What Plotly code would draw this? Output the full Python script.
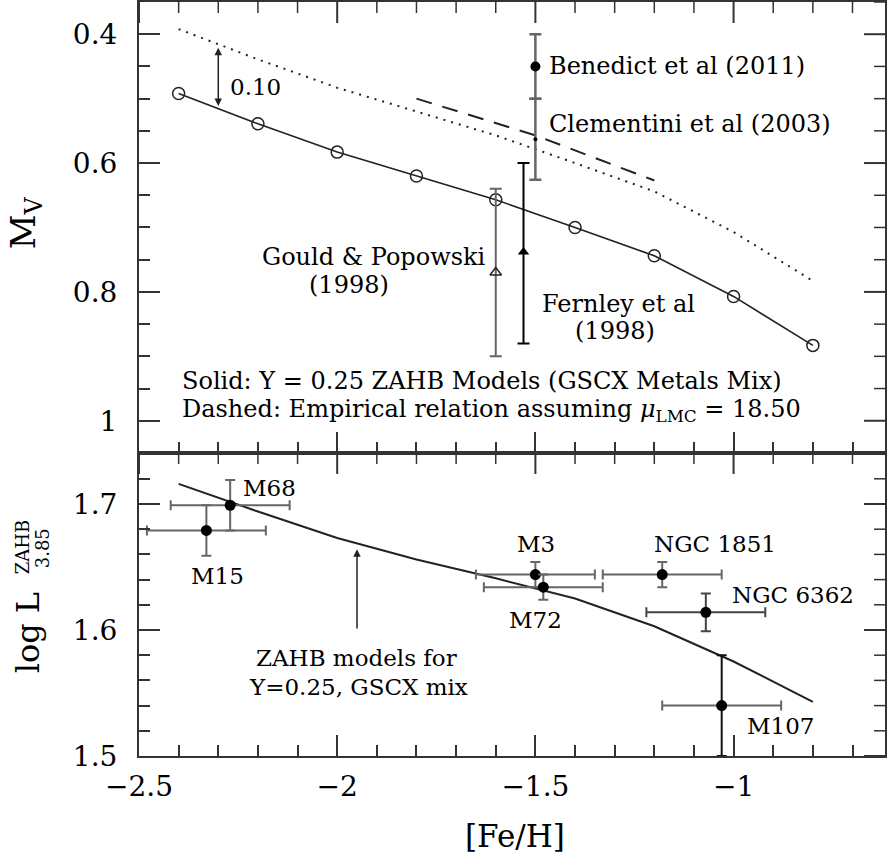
import numpy as np
import plotly.graph_objects as go

# ---------------- data ----------------
# ZAHB models, Y = 0.25, GSCX metals mix
feh_model = [-2.4, -2.2, -2.0, -1.8, -1.6, -1.4, -1.2, -1.0, -0.8]
mv_model = [0.492, 0.539, 0.583, 0.620, 0.657, 0.700, 0.744, 0.807, 0.883]
mv_dotted = [0.392, 0.439, 0.483, 0.520, 0.557, 0.600, 0.644, 0.707, 0.783]
logL_model = [1.716, 1.694, 1.673, 1.656, 1.641, 1.625, 1.603, 1.575, 1.543]

# empirical relation (mu_LMC = 18.50)
feh_emp = [-1.8, -1.5, -1.2]
mv_emp = [0.500, 0.557, 0.627]

# RR Lyrae calibrations
gould_feh, gould_mv, gould_err = -1.60, 0.770, 0.13
fernley_feh, fernley_mv, fernley_err_lo, fernley_err_hi = -1.53, 0.738, 0.138, 0.142
benedict_feh, benedict_mv, benedict_err = -1.50, 0.450, 0.050
clementini_feh, clementini_mv, clementini_err = -1.50, 0.563, 0.063

# globular clusters
gc_names = ["M15", "M68", "M3", "M72", "NGC 1851", "NGC 6362", "M107"]
gc_feh = [-2.33, -2.27, -1.50, -1.48, -1.18, -1.07, -1.03]
gc_logL = [1.679, 1.699, 1.644, 1.634, 1.644, 1.614, 1.540]
gc_feh_err = [0.15, 0.15, 0.15, 0.15, 0.15, 0.15, 0.15]
gc_logL_err = [0.020, 0.020, 0.010, 0.010, 0.010, 0.015, 0.040]
gc_label_feh = [-2.301, -2.170, -1.499, -1.499, -1.048, -0.850, -0.881]
gc_label_logL = [1.643, 1.713, 1.668, 1.608, 1.668, 1.628, 1.524]

# axes ticks
x_tickvals = [-2.5, -2.0, -1.5, -1.0]
x_ticktext = ["\u22122.5", "\u22122", "\u22121.5", "\u22121"]
top_tickvals = [0.4, 0.6, 0.8, 1.0]
top_ticktext = ["0.4", "0.6", "0.8", "1"]
bot_tickvals = [1.5, 1.6, 1.7]
bot_ticktext = ["1.5", "1.6", "1.7"]

# ---------------- figure ----------------
FONT = "DejaVu Serif"
INK = "#222222"
GREY = "#666666"
AXC = "#333333"

W, H = 887, 858
ML, MR, MT, MB = 139, 0, 2, 102
split = 0.4019
XR = [-2.5, -0.618]
TOP_R = [1.05, 0.35]
BOT_R = [1.5, 1.7405]
MAJOR_LEN, MINOR_LEN = 21, 11

fig = go.Figure()

# top panel
fig.add_trace(go.Scatter(x=feh_model, y=mv_dotted, mode="lines",
                         line=dict(color=INK, width=2, dash="2px,6px"),
                         xaxis="x2", yaxis="y2"))
fig.add_trace(go.Scatter(x=feh_emp, y=mv_emp, mode="lines",
                         line=dict(color=INK, width=2, dash="16px,11px"),
                         xaxis="x2", yaxis="y2"))
fig.add_trace(go.Scatter(x=feh_model, y=mv_model, mode="lines+markers",
                         line=dict(color=INK, width=1.6),
                         marker=dict(symbol="circle-open", size=12,
                                     color=INK, line=dict(width=1.5)),
                         xaxis="x2", yaxis="y2"))
fig.add_trace(go.Scatter(x=[gould_feh], y=[gould_mv], mode="markers",
                         marker=dict(symbol="triangle-up-open", size=10,
                                     color=INK, line=dict(width=1.5)),
                         error_y=dict(type="data", array=[gould_err], color=GREY,
                                      thickness=2, width=6),
                         xaxis="x2", yaxis="y2"))
fig.add_trace(go.Scatter(x=[fernley_feh], y=[fernley_mv], mode="markers",
                         marker=dict(symbol="triangle-up", size=10, color="black"),
                         error_y=dict(type="data", array=[fernley_err_hi],
                                      arrayminus=[fernley_err_lo], symmetric=False,
                                      color="black", thickness=2, width=6),
                         xaxis="x2", yaxis="y2"))
fig.add_trace(go.Scatter(x=[clementini_feh], y=[clementini_mv], mode="markers",
                         marker=dict(symbol="circle", size=4, color="black"),
                         error_y=dict(type="data", array=[clementini_err], color=GREY,
                                      thickness=2.5, width=6),
                         xaxis="x2", yaxis="y2"))
fig.add_trace(go.Scatter(x=[benedict_feh], y=[benedict_mv], mode="markers",
                         marker=dict(symbol="circle", size=10, color="black"),
                         error_y=dict(type="data", array=[benedict_err], color=GREY,
                                      thickness=2.5, width=6),
                         xaxis="x2", yaxis="y2"))

# bottom panel
fig.add_trace(go.Scatter(x=feh_model, y=logL_model, mode="lines",
                         line=dict(color=INK, width=2), xaxis="x", yaxis="y"))
gc_bar_x_colors = [GREY, GREY, GREY, GREY, GREY, "#444444", GREY]
gc_bar_y_colors = [GREY, GREY, GREY, GREY, GREY, "#444444", "#111111"]
for i in range(len(gc_names)):
    fig.add_trace(go.Scatter(
        x=[gc_feh[i]], y=[gc_logL[i]], mode="markers",
        marker=dict(symbol="circle", size=11, color="black"),
        error_x=dict(type="data", array=[gc_feh_err[i]], color=gc_bar_x_colors[i],
                     thickness=2, width=5),
        error_y=dict(type="data", array=[gc_logL_err[i]], color=gc_bar_y_colors[i],
                     thickness=2, width=5),
        xaxis="x", yaxis="y"))

# ---------------- annotations ----------------
ann = []


def txt(x, y, text, ref, size=24, xanchor="center"):
    ann.append(dict(x=x, y=y, xref="x" + ref, yref="y" + ref, text=text,
                    showarrow=False, xanchor=xanchor, yanchor="middle",
                    font=dict(family=FONT, size=size, color="black")))


txt(-1.471, 0.449, "Benedict et al (2011)", "2", xanchor="left")
txt(-1.471, 0.5395, "Clementini et al (2003)", "2", xanchor="left")
txt(-1.906, 0.7457, "Gould &amp; Popowski", "2")
txt(-1.969, 0.789, "(1998)", "2")
txt(-1.291, 0.819, "Fernley et al", "2")
txt(-1.300, 0.861, "(1998)", "2")
txt(-2.276, 0.482, "0.10", "2", size=23, xanchor="left")
txt(-2.397, 0.939, "Solid: Y = 0.25 ZAHB Models (GSCX Metals Mix)", "2", xanchor="left")
txt(-2.397, 0.984,
    "Dashed: Empirical relation assuming <i>\u03bc</i><sub>LMC</sub> = 18.50",
    "2", xanchor="left")

for name, lx, ly in zip(gc_names, gc_label_feh, gc_label_logL):
    txt(lx, ly, name, "", size=23)
txt(-1.952, 1.5778, "ZAHB models for", "", size=23)
txt(-1.947, 1.5548, "Y=0.25, GSCX mix", "", size=23)

# 0.10 offset between the dotted and solid curves
arrow_feh = -2.3
ann.append(dict(x=arrow_feh, y=float(np.interp(arrow_feh, feh_model, mv_model)) - 0.004,
                ax=arrow_feh, ay=float(np.interp(arrow_feh, feh_model, mv_dotted)) + 0.003,
                xref="x2", yref="y2", axref="x2", ayref="y2", text="",
                showarrow=True, arrowhead=2, arrowside="end+start",
                arrowsize=1, arrowwidth=1.5, arrowcolor=INK, standoff=0, startstandoff=0))
# pointer to the ZAHB model line
ann.append(dict(x=-1.95, y=1.664, ax=-1.95, ay=1.600,
                xref="x", yref="y", axref="x", ayref="y", text="",
                showarrow=True, arrowhead=2, arrowsize=1, arrowwidth=1.5,
                arrowcolor=INK, standoff=0))

# axis titles
PW, PH = W - ML - MR, H - MT - MB


def paper(px, py):
    return (px - ML) / PW, (H - MB - py) / PH


for text, px, py, size in [("M<sub>V</sub>", 25, 223, 34),
                           ("log L", 28, 633, 32),
                           ("ZAHB", 22, 547, 18),
                           ("3.85", 42, 548, 18)]:
    x, y = paper(px, py)
    ann.append(dict(x=x, y=y, xref="paper", yref="paper", text=text, textangle=-90,
                    showarrow=False, xanchor="center", yanchor="middle",
                    font=dict(family=FONT, size=size, color="black")))
x, y = paper(516, 836)
ann.append(dict(x=x, y=y, xref="paper", yref="paper", text="[Fe/H]",
                showarrow=False, xanchor="center", yanchor="middle",
                font=dict(family=FONT, size=31, color="black")))

# ---------------- tick marks on the top and right panel edges ----------------
# inward ticks of fixed pixel length, placed at the axis tick values
shapes = []


def is_major(v, majors):
    return any(abs(v - m) < 1e-9 for m in majors)


x_ticks = np.round(np.arange(XR[0], XR[1] + 1e-9, 0.1), 3)
for edge_y, xref in [(1.0, "x2"), (split, "x")]:
    for v in x_ticks:
        major = is_major(v, x_tickvals)
        shapes.append(dict(type="line", xref=xref, yref="paper",
                           ysizemode="pixel", yanchor=edge_y,
                           x0=v, x1=v, y0=0, y1=-(MAJOR_LEN if major else MINOR_LEN),
                           line=dict(color=AXC, width=2 if major else 1.5)))

for yref, lo, hi, step, majors in [("y2", 0.35, 1.05, 0.05, top_tickvals),
                                   ("y", 1.5, 1.7405, 0.02, bot_tickvals)]:
    for v in np.round(np.arange(lo, hi + 1e-9, step), 3):
        major = is_major(v, majors)
        shapes.append(dict(type="line", xref="paper", yref=yref,
                           xsizemode="pixel", xanchor=1.0,
                           x0=0, x1=-(MAJOR_LEN if major else MINOR_LEN), y0=v, y1=v,
                           line=dict(color=AXC, width=2 if major else 1.5)))

# ---------------- axes ----------------
frame = dict(showline=True, linewidth=2, linecolor=AXC, mirror=True,
             ticks="inside", ticklen=MAJOR_LEN, tickwidth=2, tickcolor=AXC,
             showgrid=False, zeroline=False,
             tickfont=dict(family=FONT, size=28, color="black"))


def minor(tick0, dtick):
    return dict(ticks="inside", ticklen=MINOR_LEN, tickwidth=1.5, tickcolor=AXC,
                tick0=tick0, dtick=dtick, showgrid=False)


xcommon = dict(**frame, range=XR, domain=[0, 1], tickmode="array",
               tickvals=x_tickvals, minor=minor(-2.5, 0.1))

fig.update_layout(
    width=W, height=H,
    margin=dict(l=ML, r=MR, t=MT, b=MB),
    paper_bgcolor="white", plot_bgcolor="white",
    showlegend=False,
    annotations=ann,
    shapes=shapes,
    xaxis=dict(**xcommon, anchor="y", ticktext=x_ticktext, ticklabelstandoff=4),
    xaxis2=dict(**xcommon, anchor="y2", showticklabels=False),
    yaxis=dict(**frame, range=BOT_R, domain=[0, split], anchor="x",
               tickmode="array", tickvals=bot_tickvals, ticktext=bot_ticktext,
               minor=minor(1.5, 0.02), ticklabelstandoff=14),
    yaxis2=dict(**frame, range=TOP_R, domain=[split, 1], anchor="x2",
                tickmode="array", tickvals=top_tickvals, ticktext=top_ticktext,
                minor=minor(0.35, 0.05), ticklabelstandoff=14),
)

fig.write_html("out.html")
